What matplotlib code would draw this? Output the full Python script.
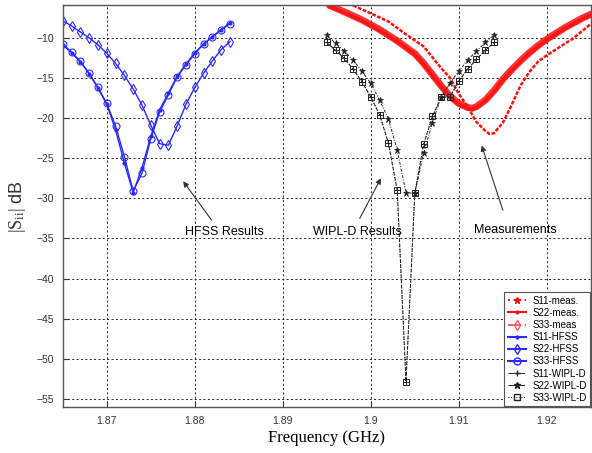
import matplotlib
matplotlib.use("Agg")
import matplotlib.pyplot as plt
from matplotlib.lines import Line2D

plt.rcParams["font.family"] = ["Liberation Sans", "DejaVu Sans"]
plt.rcParams["mathtext.fontset"] = "custom"
plt.rcParams["mathtext.rm"] = "Liberation Serif"
plt.rcParams["mathtext.it"] = "Liberation Serif"

f_s11_meas = [1.8953, 1.897, 1.899, 1.901, 1.903, 1.905, 1.906, 1.907, 1.908, 1.909,
              1.910, 1.911, 1.9115, 1.912, 1.913, 1.914, 1.915, 1.916, 1.917, 1.918,
              1.919, 1.920, 1.921, 1.922, 1.923, 1.924, 1.925]
s11_meas = [-6.0, -6.8, -7.8, -9.0, -10.4, -12.0, -13.2, -14.6, -16.0, -17.3,
            -18.2, -18.7, -18.8, -18.6, -17.8, -16.6, -15.2, -14.0, -12.9, -11.9,
            -11.0, -10.2, -9.5, -8.8, -8.2, -7.6, -7.1]
s33_meas = [-6.1, -6.9, -7.9, -9.1, -10.5, -12.1, -13.3, -14.7, -16.1, -17.4,
            -18.3, -18.8, -18.9, -18.7, -17.9, -16.7, -15.3, -14.1, -13.0, -12.0,
            -11.1, -10.3, -9.6, -8.9, -8.3, -7.7, -7.2]

f_s22_meas = [1.898, 1.900, 1.902, 1.904, 1.906, 1.908, 1.909, 1.910, 1.911, 1.912,
              1.913, 1.9135, 1.914, 1.915, 1.916, 1.917, 1.918, 1.919, 1.920, 1.921,
              1.922, 1.923, 1.924, 1.925]
s22_meas = [-6.0, -7.0, -8.0, -9.6, -11.1, -13.8, -15.0, -17.0, -18.6, -20.5,
            -21.6, -22.0, -21.9, -20.6, -18.4, -16.0, -14.3, -13.0, -12.2, -11.5,
            -10.8, -10.1, -9.2, -8.3]

# --- HFSS ---
f_hfss = [1.865, 1.866, 1.867, 1.868, 1.869, 1.870, 1.871, 1.872, 1.873, 1.874,
          1.875, 1.876, 1.877, 1.878, 1.879, 1.880, 1.881, 1.882, 1.883, 1.884]
s11_hfss = [-10.9, -11.9, -13.0, -14.5, -16.3, -18.3, -21.5, -25.6, -29.3, -26.2,
            -22.3, -19.0, -16.9, -14.8, -13.3, -11.9, -10.8, -9.9, -9.0, -8.2]
s22_hfss = [-7.9, -8.55, -9.3, -10.05, -10.9, -11.96, -13.2, -14.7, -16.4, -18.4,
            -20.9, -23.2, -23.4, -21.0, -18.3, -16.2, -14.45, -12.9, -11.5, -10.5]
s33_hfss = [-10.8, -11.8, -12.96, -14.45, -16.2, -18.2, -21.0, -24.8, -29.1, -26.9,
            -22.6, -19.3, -17.1, -14.9, -13.4, -12.0, -10.8, -9.9, -9.05, -8.25]

# --- WIPL-D ---
f_wipl = [1.895, 1.896, 1.897, 1.898, 1.899, 1.900, 1.901, 1.902, 1.903, 1.904,
          1.905, 1.906, 1.907, 1.908, 1.909, 1.910, 1.911, 1.912, 1.913, 1.914]
s11_wipl = [-10.6, -11.6, -12.6, -13.95, -15.5, -17.4, -19.6, -23.1, -29.0, -52.8,
            -29.4, -23.3, -19.8, -17.4, -17.4, -15.4, -13.95, -12.7, -11.6, -10.6]
s22_wipl = [-9.7, -10.7, -11.7, -12.8, -14.2, -15.7, -17.8, -20.1, -24.0, -29.3,
            -29.4, -24.4, -20.6, -17.4, -15.6, -14.2, -12.8, -11.7, -10.6, -9.7]
s33_wipl = [-10.6, -11.6, -12.6, -13.95, -15.5, -17.4, -19.6, -23.1, -29.0, -52.8,
            -29.4, -23.3, -19.8, -17.4, -17.4, -15.4, -13.95, -12.7, -11.6, -10.6]

x_ticks = [1.87, 1.88, 1.89, 1.9, 1.91, 1.92]
x_ticklabels = ["1.87", "1.88", "1.89", "1.9", "1.91", "1.92"]
y_ticks = [-55, -50, -45, -40, -35, -30, -25, -20, -15, -10]

RED = "#ff1010"
BLUE = "#2a2aff"
BLACK = "#222222"

fig = plt.figure(figsize=(5.92, 4.53), dpi=100)
ax = fig.add_axes([0.106, 0.101, 0.892, 0.887])

# measurements: dense markers in the original -> thick red strokes
ax.plot(f_s11_meas, s11_meas, color=RED, lw=5.0, alpha=0.85, solid_capstyle="round")
ax.plot(f_s11_meas, s33_meas, color=RED, lw=2.5, alpha=0.9)
ax.plot(f_s22_meas, s22_meas, color=RED, lw=1.8, linestyle=(0, (1.5, 0.6)))

# HFSS
ax.plot(f_hfss, s11_hfss, color=BLUE, lw=1.0, marker=".", ms=4)
ax.plot(f_hfss, s22_hfss, color=BLUE, lw=1.0, marker="d", ms=5,
        mfc="none", mew=0.8)
ax.plot(f_hfss, s33_hfss, color=BLUE, lw=1.0, marker="o", ms=5,
        mfc="none", mew=0.8)

# WIPL-D
ax.plot(f_wipl, s11_wipl, color=BLACK, lw=0.7, ls="--", marker="+", ms=5, mew=0.7)
ax.plot(f_wipl, s22_wipl, color=BLACK, lw=0.7, ls=(0, (3, 1.5, 1, 1.5)),
        marker="*", ms=5, mew=0.5)
ax.plot(f_wipl, s33_wipl, color=BLACK, lw=0.7, ls=":", marker="s", ms=5,
        mfc="none", mew=0.7)

ax.set_xlim(1.865, 1.925)
ax.set_ylim(-56, -6)
ax.set_xticks(x_ticks)
ax.set_xticklabels(x_ticklabels)
ax.set_yticks(y_ticks)
ax.tick_params(direction="in", labelsize=7.5, length=4, width=0.8,
               colors="#333333", pad=6)
ax.grid(True, color="#222222", lw=0.7, linestyle=(0, (2, 2.5)))
for sp in ax.spines.values():
    sp.set_color("#555555")
    sp.set_linewidth(1.0)

ax.set_xlabel("Frequency (GHz)", family="Liberation Serif", fontsize=12, labelpad=3)
ax.set_ylabel(r"$|\mathrm{S}_{\mathrm{ii}}|$ dB", fontsize=13, labelpad=6,
              color="#333333")

# annotations
arrow = dict(arrowstyle="-|>", color="#333333", lw=0.8, mutation_scale=8)
ax.annotate("", xy=(1.8785, -27.6), xytext=(1.8821, -33.0), arrowprops=arrow)
ax.text(1.8834, -34.2, "HFSS Results", fontsize=9, ha="center", va="center")
ax.annotate("", xy=(1.9013, -27.2), xytext=(1.8986, -32.8), arrowprops=arrow)
ax.text(1.8985, -34.2, "WIPL-D Results", fontsize=9, ha="center", va="center")
ax.annotate("", xy=(1.9125, -23.1), xytext=(1.9151, -31.8), arrowprops=arrow)
ax.text(1.9164, -34.0, "Measurements", fontsize=9, ha="center", va="center")

# legend with the original marker styles
handles = [
    Line2D([], [], color=RED, ls=":", marker="*", ms=5),
    Line2D([], [], color=RED, ls="-", marker=".", ms=4),
    Line2D([], [], color="#ff6060", ls="-.", marker="d", ms=5, mfc="none"),
    Line2D([], [], color=BLUE, ls="-", marker=".", ms=4),
    Line2D([], [], color=BLUE, ls="-", marker="d", ms=5, mfc="none"),
    Line2D([], [], color=BLUE, ls="-", marker="o", ms=5, mfc="none"),
    Line2D([], [], color=BLACK, ls="-.", marker="+", ms=5, lw=0.7),
    Line2D([], [], color=BLACK, ls="-.", marker="*", ms=5, lw=0.7),
    Line2D([], [], color=BLACK, ls=":", marker="s", ms=4, mfc="none", lw=0.7),
]
labels = ["S11-meas.", "S22-meas.", "S33-meas", "S11-HFSS", "S22-HFSS",
          "S33-HFSS", "S11-WIPL-D", "S22-WIPL-D", "S33-WIPL-D"]
leg = ax.legend(handles, labels, loc="lower right", fontsize=7, fancybox=False,
                framealpha=1, edgecolor="#555555", handlelength=1.9,
                labelspacing=0.22, borderpad=0.35, handletextpad=0.6,
                borderaxespad=0.1)
leg.get_frame().set_linewidth(0.8)

fig.savefig("out.png", dpi=100)
